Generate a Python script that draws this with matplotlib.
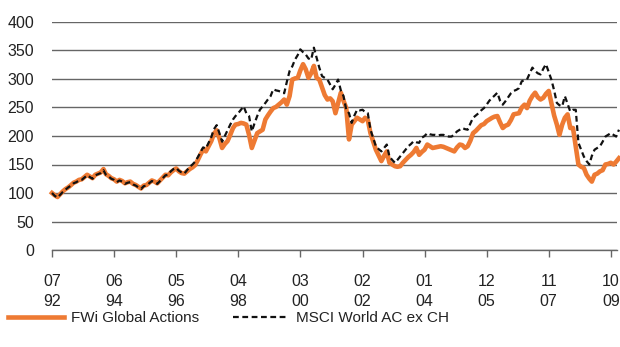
import matplotlib
matplotlib.use("Agg")
import matplotlib.pyplot as plt
import matplotlib.dates as mdates
import pandas as pd

plt.rcParams['font.family'] = ['Liberation Sans', 'DejaVu Sans']

# monthly index values, 07/1992 = 100
months = pd.date_range('1992-07-01', '2010-01-01', freq='MS')

fwi = [
    100, 96, 93, 98, 103, 107, 110, 114, 118, 120,
    123, 124, 128, 132, 129, 126, 132, 134, 136, 142,
    133, 130, 126, 124, 120, 123, 121, 117, 119, 120,
    116, 114, 111, 108, 113, 114, 118, 122, 120, 117,
    122, 127, 132, 131, 136, 140, 143, 138, 135, 134,
    138, 142, 145, 149, 158, 168, 176, 173, 182, 191,
    204, 210, 196, 179, 186, 191, 202, 214, 220, 221,
    223, 222, 220, 202, 179, 192, 205, 208, 211, 229,
    236, 243, 249, 251, 255, 259, 264, 255, 270, 299,
    301, 302, 315, 326, 317, 302, 310, 323, 302, 299,
    285, 272, 264, 266, 261, 240, 258, 276, 262, 249,
    194, 220, 226, 232, 229, 226, 232, 228, 205, 190,
    176, 166, 156, 165, 173, 153, 150, 147, 146, 147,
    153, 158, 163, 167, 172, 179, 167, 172, 176, 185,
    182, 179, 180, 181, 182, 181, 179, 177, 175, 173,
    180, 185, 184, 179, 182, 192, 205, 209, 214, 219,
    221, 226, 229, 232, 234, 235, 224, 214, 218, 220,
    228, 238, 239, 240, 250, 255, 249, 262, 270, 276,
    268, 264, 267, 274, 279, 258, 236, 220, 202, 220,
    232, 238, 214, 214, 182, 150, 146, 144, 132, 125,
    120, 132, 134, 138, 140, 150, 151, 153, 150, 155, 161,
]

msci = [
    100, 95, 92, 97, 102, 106, 110, 113, 117, 119,
    122, 123, 127, 131, 128, 125, 131, 133, 135, 140,
    132, 129, 125, 123, 119, 122, 120, 116, 118, 119,
    115, 113, 110, 107, 112, 113, 117, 121, 119, 116,
    121, 126, 131, 132, 138, 142, 144, 139, 136, 134,
    140, 146, 150, 155, 163, 172, 180, 178, 188, 198,
    212, 219, 205, 190, 200, 210, 220, 229, 235, 240,
    246, 252, 240, 235, 208, 222, 235, 246, 252, 258,
    264, 270, 282, 280, 279, 277, 275, 295, 314, 322,
    334, 342, 352, 347, 343, 336, 334, 355, 337, 320,
    305, 302, 299, 290, 282, 290, 299, 280, 270, 246,
    240, 223, 236, 246, 245, 246, 242, 240, 211, 196,
    182, 177, 173, 179, 185, 164, 158, 153, 158, 164,
    170, 176, 182, 186, 191, 189, 188, 197, 200, 205,
    203, 202, 202, 201, 202, 202, 200, 199, 199, 203,
    208, 211, 214, 212, 211, 222, 232, 236, 240, 245,
    249, 255, 262, 267, 271, 276, 262, 255, 261, 268,
    275, 279, 281, 284, 296, 298, 299, 310, 320, 314,
    310, 308, 318, 326, 312, 299, 280, 258, 254, 252,
    270, 256, 243, 246, 246, 188, 176, 164, 156, 150,
    165, 176, 179, 182, 190, 199, 202, 205, 202, 199, 211,
]

tick_dates = pd.to_datetime(['1992-07-01', '1994-06-01', '1996-05-01', '1998-04-01',
                             '2000-03-01', '2002-02-01', '2004-01-01', '2005-12-01',
                             '2007-11-01', '2009-10-01'])

orange = '#EE7A33'
grid_col = '#666666'
text_col = '#222222'

fig = plt.figure(figsize=(6.2, 3.47), dpi=100)
ax = fig.add_axes([52 / 620, 1 - 250 / 347, 565 / 620, 228 / 347])

ax.plot(months, fwi, color=orange, lw=3.3, solid_joinstyle='round',
        label='FWi Global Actions', clip_on=False, zorder=3)
ax.plot(months, msci, color='#111111', lw=1.6, dashes=(2.6, 1.6),
        label='MSCI World AC ex CH', clip_on=False, zorder=4)

ax.set_ylim(0, 400)
ax.set_yticks(range(0, 401, 50))
ax.set_xlim(pd.Timestamp('1992-07-01'), pd.Timestamp('2009-12-10'))
ax.set_xticks(tick_dates)
ax.xaxis.set_major_formatter(mdates.DateFormatter('%m\n%y'))

ax.grid(axis='y', color=grid_col, lw=1.0)
ax.set_axisbelow(True)
for s in ['left', 'right', 'top']:
    ax.spines[s].set_visible(False)
ax.spines['bottom'].set_color(grid_col)
ax.spines['bottom'].set_linewidth(1.0)

ax.tick_params(axis='y', length=0, pad=13, labelsize=11.5, labelcolor=text_col)
ax.tick_params(axis='x', direction='out', length=5, width=1.0, color=grid_col,
               pad=12, labelsize=11.5, labelcolor=text_col)
for lbl in ax.get_xticklabels():
    lbl.set_linespacing(1.45)

fig.legend(loc='center left', bbox_to_anchor=(8 / 620, 1 - 318 / 347), ncol=2,
           frameon=False, fontsize=11, handlelength=3.66, handletextpad=0.46,
           columnspacing=2.25, labelcolor=text_col, borderaxespad=0.0,
           borderpad=0.0)

fig.savefig('out.png', dpi=100)
